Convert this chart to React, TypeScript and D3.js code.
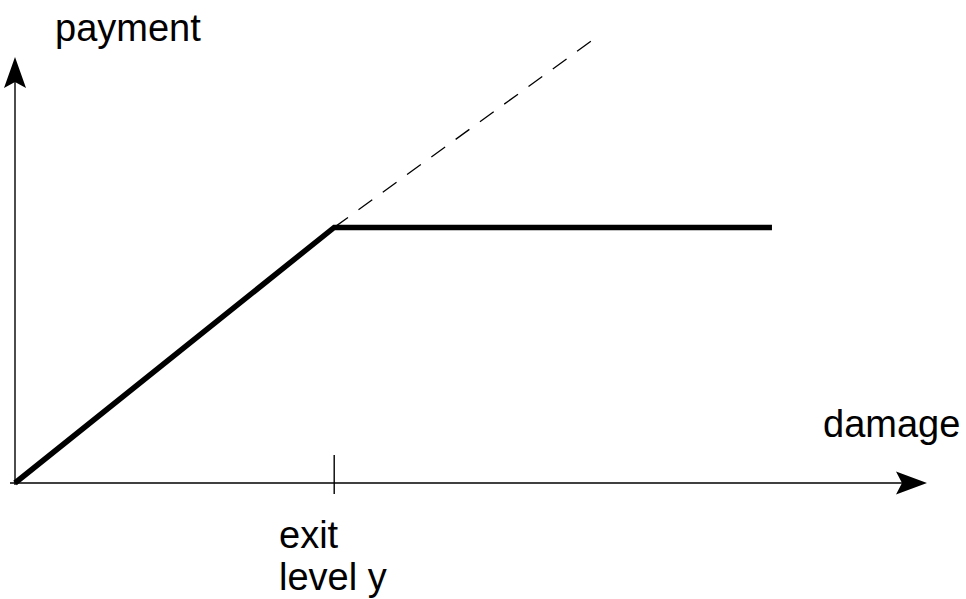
import React from "react"
import * as d3 from "d3"

// payoff curve: payment grows with damage until the exit level, then stays flat
const payoffDamage = [0, 3.5, 8.3]
const payoffPayment = [0, 6.0, 6.0]

// dashed continuation (no cap)
const dashDamage = [3.5, 6.38]
const dashPayment = [6.0, 10.47]

const exitLevel = 3.5
const axisLabels = { x: "damage", y: "payment" }
const exitLabel = ["exit", "level y"]

const W = 966
const H = 599
const FONT = "'Liberation Sans', Arial, Helvetica, sans-serif"

export default function App() {
  const x = d3.scaleLinear().domain([0, 10]).range([15, 927])
  const y = d3.scaleLinear().domain([0, 10]).range([483, 57])

  const line = d3
    .line<[number, number]>()
    .x(d => x(d[0]))
    .y(d => y(d[1]))

  const payoff = payoffDamage.map((d, i) => [d, payoffPayment[i]] as [number, number])
  const dashed = dashDamage.map((d, i) => [d, dashPayment[i]] as [number, number])

  const x0 = x(0)
  const y0 = y(0)
  const xEnd = x(10)
  const yEnd = y(10)

  // arrowheads (notched)
  const yArrow = `M${x0},${yEnd} L${x0 + 11},${yEnd + 31} L${x0},${yEnd + 25} L${x0 - 11},${yEnd + 31} Z`
  const xArrow = `M${xEnd},${y0} L${xEnd - 31},${y0 + 11.5} L${xEnd - 25},${y0} L${xEnd - 31},${y0 - 11.5} Z`

  return (
    <svg
      width={W}
      height={H}
      style={{ position: "absolute", left: 0, top: 0, background: "#fff" }}
    >
      {/* axes */}
      <line x1={10} y1={y0} x2={xEnd - 20} y2={y0} stroke="#000" strokeWidth={1.4} />
      <line x1={x0} y1={y0 + 2} x2={x0} y2={yEnd + 20} stroke="#000" strokeWidth={1.4} />
      <path d={yArrow} fill="#000" />
      <path d={xArrow} fill="#000" />

      {/* exit level tick */}
      <line
        x1={x(exitLevel)}
        x2={x(exitLevel)}
        y1={y0 - 28}
        y2={y0 + 11}
        stroke="#000"
        strokeWidth={1.4}
      />

      {/* dashed continuation */}
      <path
        d={line(dashed) ?? ""}
        fill="none"
        stroke="#000"
        strokeWidth={1.3}
        strokeDasharray="17 13"
      />

      {/* payoff */}
      <path
        d={line(payoff) ?? ""}
        fill="none"
        stroke="#000"
        strokeWidth={5.5}
        strokeLinejoin="miter"
      />

      {/* labels */}
      <text x={55} y={41} fontFamily={FONT} fontSize={38} fill="#000">
        {axisLabels.y}
      </text>
      <text x={823} y={437} fontFamily={FONT} fontSize={38} fill="#000">
        {axisLabels.x}
      </text>
      {exitLabel.map((t, i) => (
        <text key={t} x={279} y={548 + i * 42} fontFamily={FONT} fontSize={38} fill="#000">
          {t}
        </text>
      ))}
    </svg>
  )
}
